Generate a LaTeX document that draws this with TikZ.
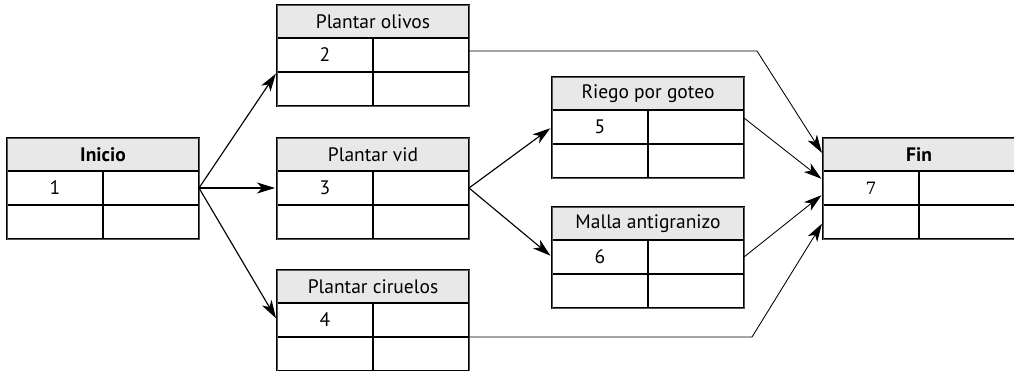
\documentclass[tikz,border=0pt]{standalone}
\usepackage{fontspec}
\setsansfont{PT Sans}
\newfontfamily\seriffin{DejaVu Serif}
\usetikzlibrary{arrows.meta}
\definecolor{griscab}{RGB}{232,232,232}
\definecolor{grisborde}{RGB}{85,85,85}
\tikzstyle{cabecera} = [rectangle, minimum width=192pt, minimum height=33pt,
                        inner sep=0pt, outer sep=0pt, text centered,
                        draw=black, fill=griscab, line width=0.4mm,
                        font=\sffamily\fontsize{19.5}{21}\selectfont]
\tikzstyle{celda} = [rectangle, minimum width=96pt, minimum height=34pt,
                     inner sep=0pt, outer sep=0pt, draw=black, line width=0.4mm,
                     font=\sffamily\fontsize{19.5}{21}\selectfont]
\tikzstyle{marco} = [draw=grisborde, line width=0.3mm]
\tikzstyle{flecha} = [line width=0.4mm, shorten >=2pt,
                      -{Stealth[length=18pt,width=11pt,inset=5pt]}]
\tikzstyle{flechafina} = [line width=0.3mm, shorten >=2pt,
                          -{Stealth[length=18pt,width=11pt,inset=5pt]}]

% casilla de actividad: nombre, x, y, titulo, numero
\newcommand{\tarea}[5]{
  \node (#1) [cabecera, anchor=north west] at (#2,#3) {#4};
  \node (#1-a) [celda, anchor=north west] at (#1.south west) {#5};
  \node (#1-b) [celda, anchor=north west] at (#1-a.north east) {};
  \node (#1-c) [celda, anchor=north west] at (#1-a.south west) {};
  \node (#1-d) [celda, anchor=north west] at (#1-c.north east) {};
  \draw [marco] (#1.north west) rectangle (#1-d.south east);
}

\begin{document}
\begin{tikzpicture}[x=1pt, y=-1pt]
        \clip (0,0) rectangle (1014,370);
        \fill [white] (0,0) rectangle (1014,370);

        \tarea{inicio}{7}{138}{\textbf{Inicio}}{1}
        \tarea{olivos}{277}{5}{Plantar olivos}{2}
        \tarea{vid}{277}{138}{Plantar vid}{3}
        \tarea{ciruelos}{277}{270}{Plantar ciruelos}{4}
        \tarea{riego}{552}{77}{Riego por goteo}{5}
        \tarea{malla}{552}{207}{Malla antigranizo}{6}
        \tarea{fin}{823}{138}{\textbf{Fin}}{\seriffin\fontsize{17}{21}\selectfont 7}

        \draw [flecha] (inicio-b.east) -- (olivos-a.south west);
        \draw [flecha] (inicio-b.east) -- (vid-a.west);
        \draw [flecha] (inicio-b.east) -- (ciruelos-a.west);
        \draw [flecha] (vid-b.east) -- (riego-a.west);
        \draw [flecha] (vid-b.east) -- (malla-a.west);

        \draw [flechafina] ([yshift=4pt]olivos-b.east) -- ++(288,0) -- (fin.west);
        \draw [flechafina] ([yshift=9pt]riego-b.east) -- ([yshift=8pt]fin-a.west);
        \draw [flechafina] (malla-b.east) -- ([yshift=-6pt]fin-a.west);
        \draw [flechafina] (ciruelos-b.south east) -- ++(283,0) -- (fin-c.west);

\end{tikzpicture}
\end{document}
